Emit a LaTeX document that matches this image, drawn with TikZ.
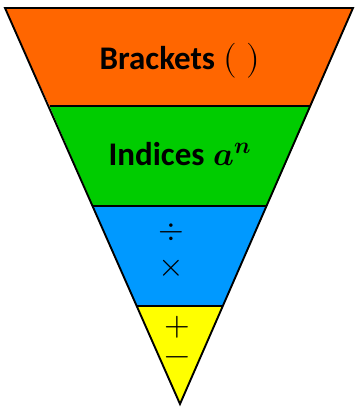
\documentclass[tikz,border=0pt]{standalone}
\usepackage{fontspec}
\usepackage{unicode-math}
\setmainfont{Carlito}
\setmathfont{Latin Modern Math}
\definecolor{bandorange}{HTML}{FF6600}
\definecolor{bandgreen}{HTML}{00CC00}
\definecolor{bandblue}{HTML}{0099FF}
\definecolor{bandyellow}{HTML}{FFFF00}
\begin{document}
\begin{tikzpicture}[x=1pt,y=-1pt,
  band/.style={draw=black,line width=1.9pt,line join=miter},
  bigtext/.style={font=\fontsize{33}{36}\selectfont\bfseries,inner sep=0pt,anchor=base},
  symtext/.style={font=\fontsize{33}{36}\selectfont,inner sep=0pt}]
\useasboundingbox (0,0) rectangle (354,410);
\coordinate (a0) at (5,8);
\coordinate (b0) at (353,8);
\coordinate (a1) at (49.5,106);
\coordinate (b1) at (311,106);
\coordinate (a2) at (93,206);
\coordinate (b2) at (267,206);
\coordinate (a3) at (137,306);
\coordinate (b3) at (223,306);
\coordinate (apex) at (180,404);
\fill[bandorange] (a0) -- (b0) -- (b1) -- (a1) -- cycle;
\fill[bandgreen] (a1) -- (b1) -- (b2) -- (a2) -- cycle;
\fill[bandblue] (a2) -- (b2) -- (b3) -- (a3) -- cycle;
\fill[bandyellow] (a3) -- (b3) -- (apex) -- cycle;
\draw[band] (a0) -- (b0) -- (apex) -- cycle;
\draw[band] (a1) -- (b1);
\draw[band] (a2) -- (b2);
\draw[band] (a3) -- (b3);
\node[bigtext] (brackets) at (180,69) {Brackets\hspace{8pt}{\fontsize{35}{36}\selectfont$(\hspace{10pt})$}};
\node[bigtext] (indices) at (180,165) {Indices\hspace{9pt}$\symbfit{a}^{\symbfit{n}}$};
\node[symtext] (div) at (171.5,232) {$\div$};
\node[symtext] (times) at (171,268.5) {$\times$};
\node[symtext] (plus) at (177,327) {$+$};
\node[symtext] (minus) at (177,361) {$-$};
\end{tikzpicture}
\end{document}
